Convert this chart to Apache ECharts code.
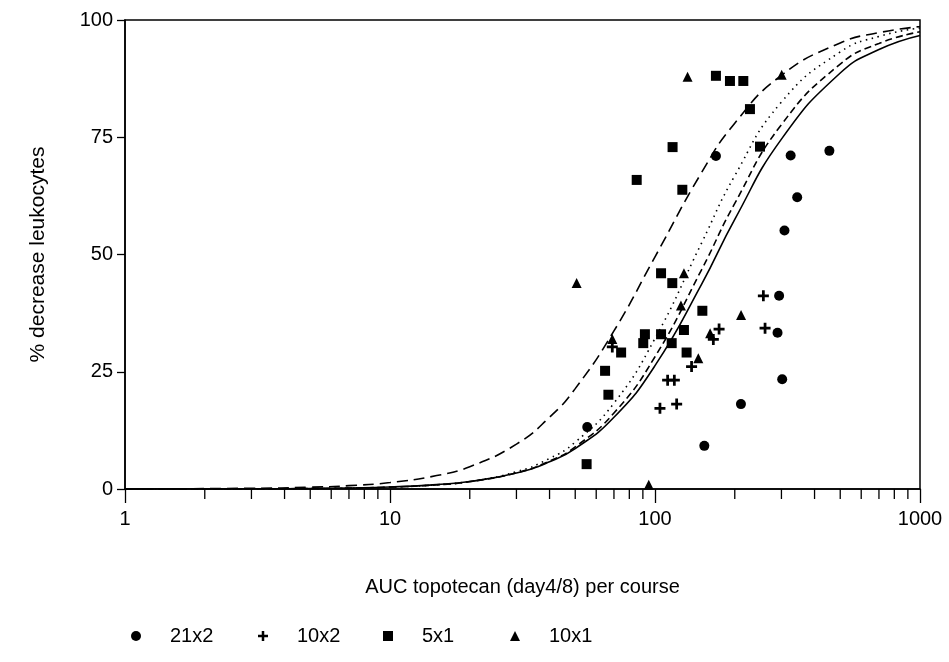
<!DOCTYPE html>
<html>
<head>
<meta charset="utf-8">
<script src="https://cdn.jsdelivr.net/npm/echarts@6/dist/echarts.min.js"></script>
<style>
html,body{margin:0;padding:0;background:#fff;}
#chart{width:949px;height:662px;}
</style>
</head>
<body>
<div id="chart"></div>
<script>
// ---- data ----
const sched21x2 = [[55.5,13.2],[153.5,9.2],[169.8,71.0],[211,18.1],[290,33.3],[294,41.2],[302,23.4],[308,55.1],[325,71.1],[344,62.2],[455,72.1]];
const sched10x2 = [[69,30.3],[104.4,17.2],[111.6,23.2],[118.3,23.2],[120.7,18.1],[137.4,26.1],[166,31.9],[174.5,34.1],[256.4,41.2],[260.2,34.3]];
const sched5x1 = [[55.2,5.3],[64.8,25.2],[66.7,20.1],[74.5,29.1],[85.3,65.9],[90.3,31.1],[91.6,33.0],[105.4,33.0],[105.4,46.0],[115.6,31.1],[116.2,43.9],[116.5,72.9],[126.8,63.8],[128.6,33.9],[131.6,29.1],[150.9,38.0],[169.8,88.1],[191.8,87.0],[215.4,87.0],[228.2,81.0],[249,73.0]];
const sched10x1 = [[50.6,43.9],[69,32.0],[94.7,0.9],[125.3,39.1],[128.6,46.0],[132.7,87.9],[145.7,27.9],[161.4,33.2],[211.2,37.1],[300.6,88.3]];

const curveX = [1,3,5,7,10,15,20,30,40,50,70,100,150,200,300,500,700,1000];
const curveLongDash  = [0.02,0.15,0.38,0.71,1.37,2.86,4.76,9.57,15.3,21.4,33.7,49.5,67.5,78.0,88.2,95.1,97.3,98.6];
const curveDotted    = [0.0,0.03,0.09,0.18,0.38,0.89,1.61,3.68,6.52,10.0,18.3,32.1,52.5,66.8,82.5,93.2,96.5,98.3];
const curveShortDash = [0.0,0.04,0.10,0.20,0.40,0.89,1.57,3.45,5.96,8.99,16.2,28.2,46.8,60.9,77.7,90.6,95.0,97.5];
const curveSolid     = [0.0,0.04,0.11,0.22,0.43,0.93,1.60,3.42,5.79,8.62,15.3,26.3,43.7,57.5,74.6,88.7,93.7,96.7];

const yTicks = [0,25,50,75,100];
const xMinorTicks = [2,3,4,5,6,7,8,9,20,30,40,50,60,70,80,90,200,300,400,500,600,700,800,900];
const legendNames = ['21x2','10x2','5x1','10x1'];

// ---- chart ----
const FONT = '"Liberation Sans", Arial, sans-serif';
const plusPath = 'path://M3,0H5V3H8V5H5V8H3V5H0V3H3Z';
const zip = (xs, ys) => xs.map((x,i)=>[x, ys[i]]);

const chart = echarts.init(document.getElementById('chart'), null, {renderer:'canvas'});

function lineSeries(name, data, type){
  return {
    name, type:'line', data: zip(curveX, data), smooth:true, showSymbol:false, symbol:'none',
    lineStyle:{color:'#000', width:1.6, type}, z:2, silent:true, clip:true
  };
}
function scatter(name, data, symbol, size){
  return {name, type:'scatter', data, symbol, symbolSize:size, itemStyle:{color:'#000', opacity:1}, z:5};
}
function legendAt(name, left, icon){
  return {
    data:[{name, icon}], left, top:621, itemWidth:10, itemHeight:10, itemGap:0,
    textStyle:{fontFamily:FONT, fontSize:20, color:'#000', padding:[0,0,0,24]}, selectedMode:false
  };
}

chart.setOption({
  animation:false,
  backgroundColor:'#fff',
  grid:{left:125, right:29, top:20, bottom:173, show:true, borderColor:'#000', borderWidth:1.5},
  xAxis:{
    type:'log', logBase:10, min:1, max:1000,
    axisLine:{show:true, lineStyle:{color:'#000', width:1.5}},
    axisTick:{show:true, length:14, inside:false, lineStyle:{color:'#000', width:1.3}},
    axisLabel:{fontFamily:FONT, fontSize:20, color:'#000', margin:20, formatter:(v)=>String(Math.round(v))},
    splitLine:{show:false},
    name:'AUC topotecan (day4/8) per course', nameLocation:'middle', nameGap:88,
    nameTextStyle:{fontFamily:FONT, fontSize:20, color:'#000'}
  },
  yAxis:{
    type:'value', min:0, max:100, interval:25,
    axisLine:{show:true, lineStyle:{color:'#000', width:1.5}},
    axisTick:{show:true, length:8, lineStyle:{color:'#000', width:1.3}},
    axisLabel:{fontFamily:FONT, fontSize:20, color:'#000', margin:12},
    splitLine:{show:false},
    name:'% decrease leukocytes', nameLocation:'middle', nameGap:76, nameRotate:90,
    nameTextStyle:{fontFamily:FONT, fontSize:21, color:'#000'}
  },
  legend:[
    legendAt(legendNames[0], 126, 'circle'),
    legendAt(legendNames[1], 253, plusPath),
    legendAt(legendNames[2], 378, 'rect'),
    legendAt(legendNames[3], 505, 'triangle')
  ],
  series:[
    lineSeries('curveA', curveLongDash, [11,6]),
    lineSeries('curveB', curveDotted, [1.5,4.5]),
    lineSeries('curveC', curveShortDash, [7,4]),
    lineSeries('curveD', curveSolid, 'solid'),
    scatter(legendNames[0], sched21x2, 'circle', 10),
    scatter(legendNames[1], sched10x2, plusPath, 11),
    scatter(legendNames[2], sched5x1, 'rect', 10),
    scatter(legendNames[3], sched10x1, 'triangle', 10),
    {
      type:'custom', coordinateSystem:'cartesian2d', silent:true, clip:false, z:10,
      data: xMinorTicks.map(v=>[v,0]),
      renderItem:(params, api)=>{
        const p = api.coord([api.value(0), 0]);
        return {type:'line', shape:{x1:p[0], y1:p[1], x2:p[0], y2:p[1]+10}, style:{stroke:'#000', lineWidth:1.3}};
      }
    }
  ]
});
</script>
</body>
</html>
